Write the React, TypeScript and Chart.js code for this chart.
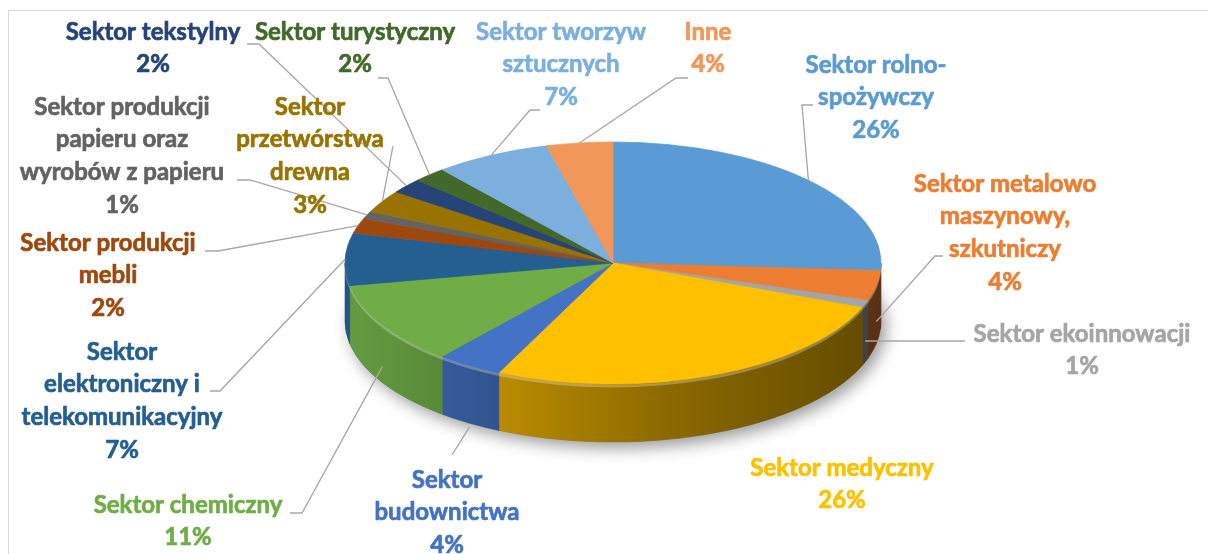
import { useEffect, useRef } from "react";
import { Chart, registerables } from "chart.js";

Chart.register(...registerables);

// ---------- data ----------
const categories = [
  "Sektor rolno-spożywczy",
  "Sektor metalowo maszynowy, szkutniczy",
  "Sektor ekoinnowacji",
  "Sektor medyczny",
  "Sektor budownictwa",
  "Sektor chemiczny",
  "Sektor elektroniczny i telekomunikacyjny",
  "Sektor produkcji mebli",
  "Sektor produkcji papieru oraz wyrobów z papieru",
  "Sektor przetwórstwa drewna",
  "Sektor tekstylny",
  "Sektor turystyczny",
  "Sektor tworzyw sztucznych",
  "Inne",
];
const values = [26, 4, 1, 26, 4, 11, 7, 2, 1, 3, 2, 2, 7, 4];
const labelLines = [
  ["Sektor rolno-", "spożywczy"],
  ["Sektor metalowo", "maszynowy,", "szkutniczy"],
  ["Sektor ekoinnowacji"],
  ["Sektor medyczny"],
  ["Sektor", "budownictwa"],
  ["Sektor chemiczny"],
  ["Sektor", "elektroniczny i", "telekomunikacyjny"],
  ["Sektor produkcji", "mebli"],
  ["Sektor produkcji", "papieru oraz", "wyrobów z papieru"],
  ["Sektor", "przetwórstwa", "drewna"],
  ["Sektor tekstylny"],
  ["Sektor turystyczny"],
  ["Sektor tworzyw", "sztucznych"],
  ["Inne"],
];

// ---------- styles ----------
const colors = [
  "#5B9BD5", "#ED7D31", "#A5A5A5", "#FFC000", "#4472C4", "#70AD47", "#255E91",
  "#9E480E", "#636363", "#997300", "#264478", "#43682B", "#7CAFDD", "#F1975A",
];

// label placement: text centre x, first line y, leader attach point, elbow, drop into wall
const labelLayout = [
  { cx: 876, y: 65, ax: 813, ay: 105, elbow: -11, drop: 0 },
  { cx: 1005, y: 184, ax: 943, ay: 256, elbow: -8, drop: 36 },
  { cx: 1082, y: 334, ax: 965, ay: 341, elbow: 0, drop: 37 },
  { cx: 842, y: 468, ax: null, ay: 0, elbow: 0, drop: 0 },
  { cx: 447, y: 480, ax: 452, ay: 455, elbow: 0, drop: 62 },
  { cx: 188, y: 505, ax: 290, ay: 513, elbow: 12, drop: 42 },
  { cx: 122, y: 352, ax: 210, ay: 391, elbow: 10, drop: 0 },
  { cx: 108, y: 243, ax: 205, ay: 251, elbow: 13, drop: 0 },
  { cx: 122, y: 107, ax: 237, ay: 180, elbow: 13, drop: 0 },
  { cx: 310, y: 107, ax: 393, ay: 146, elbow: 0, drop: 0 },
  { cx: 153, y: 32, ax: 247, ay: 44, elbow: 12, drop: 0 },
  { cx: 355, y: 32, ax: 378, ay: 78, elbow: 10, drop: 0 },
  { cx: 561, y: 32, ax: 540, ay: 110, elbow: -10, drop: 0 },
  { cx: 708, y: 32, ax: 688, ay: 78, elbow: -12, drop: 0 },
];

const TILT = 0.4515;
const DEPTH = 58;
const FONT_SIZE = 24;
const FONT_WEIGHT = "bold";
const LINE_H = 32.6;
const FONT_FAMILY = "Lato, 'Open Sans', sans-serif";

function shade(hex: string, f: number): string {
  const n = parseInt(hex.slice(1), 16);
  const r = Math.round(((n >> 16) & 255) * f);
  const g = Math.round(((n >> 8) & 255) * f);
  const b = Math.round((n & 255) * f);
  return `rgb(${r},${g},${b})`;
}

const framePlugin = {
  id: "frame",
  beforeDraw(chart: any) {
    const ctx = chart.ctx;
    ctx.save();
    ctx.fillStyle = "#ffffff";
    ctx.fillRect(0, 0, chart.width, chart.height);
    ctx.strokeStyle = "#D9D9D9";
    ctx.lineWidth = 1;
    ctx.strokeRect(8.5, 10.5, chart.width + 200, chart.height + 200);
    ctx.restore();
  },
};

const threeDPlugin = {
  id: "threeD",
  beforeDatasetsDraw(chart: any) {
    const meta = chart.getDatasetMeta(0);
    const arcs = meta.data;
    const ctx = chart.ctx;
    if (!arcs.length) {
      ctx.save();
      return;
    }
    const cx = arcs[0].x;
    const cy = arcs[0].y;
    const R = arcs[0].outerRadius;
    const ry = R * TILT;

    // soft shadow under the pie
    ctx.save();
    ctx.shadowColor = "rgba(0,0,0,0.4)";
    ctx.shadowBlur = 16;
    ctx.shadowOffsetX = 5;
    ctx.shadowOffsetY = 6;
    ctx.beginPath();
    ctx.ellipse(cx, cy + DEPTH, R, ry, 0, 0, Math.PI * 2);
    ctx.fillStyle = "#777";
    ctx.fill();
    ctx.restore();

    // side walls
    arcs.forEach((arc: any, i: number) => {
      const a = Math.max(arc.startAngle, 0);
      const b = Math.min(arc.endAngle, Math.PI);
      if (b <= a) return;
      const c = colors[i];
      const grad = ctx.createLinearGradient(cx - R, 0, cx + R, 0);
      grad.addColorStop(0, shade(c, 0.9));
      grad.addColorStop(0.3, shade(c, 0.72));
      grad.addColorStop(0.6, shade(c, 0.55));
      grad.addColorStop(1, shade(c, 0.38));
      ctx.save();
      ctx.beginPath();
      ctx.ellipse(cx, cy, R, ry, 0, a, b, false);
      ctx.ellipse(cx, cy + DEPTH, R, ry, 0, b, a, true);
      ctx.closePath();
      ctx.fillStyle = grad;
      ctx.fill();
      ctx.strokeStyle = grad;
      ctx.lineWidth = 0.6;
      ctx.stroke();
      ctx.restore();
    });

    // rim highlight (bevel)
    ctx.save();
    ctx.beginPath();
    ctx.ellipse(cx, cy + 2, R - 1, ry, 0, 0.02, Math.PI - 0.02, false);
    ctx.strokeStyle = "rgba(255,255,255,0.28)";
    ctx.lineWidth = 3;
    ctx.stroke();
    ctx.restore();

    // flatten top face
    ctx.save();
    ctx.translate(cx, cy);
    ctx.scale(1, TILT);
    ctx.translate(-cx, -cy);
  },
  afterDatasetsDraw(chart: any) {
    chart.ctx.restore();
  },
  afterDraw(chart: any) {
    const meta = chart.getDatasetMeta(0);
    const arcs = meta.data;
    if (!arcs.length) return;
    const ctx = chart.ctx;
    const cx = arcs[0].x;
    const cy = arcs[0].y;
    const R = arcs[0].outerRadius;
    const ry = R * TILT;
    ctx.save();
    // leader lines
    ctx.strokeStyle = "#A6A6A6";
    ctx.lineWidth = 1.3;
    arcs.forEach((arc: any, i: number) => {
      const L = labelLayout[i];
      if (L.ax == null) return;
      const mid = (arc.startAngle + arc.endAngle) / 2;
      const px = cx + R * Math.cos(mid);
      const py = cy + ry * Math.sin(mid) + L.drop;
      ctx.beginPath();
      ctx.moveTo(L.ax, L.ay);
      if (L.elbow) ctx.lineTo(L.ax + L.elbow, L.ay);
      ctx.lineTo(px, py);
      ctx.stroke();
    });
    // label texts (slight stroke to match the heavier original weight)
    ctx.font = `${FONT_WEIGHT} ${FONT_SIZE}px ${FONT_FAMILY}`;
    ctx.textAlign = "center";
    ctx.textBaseline = "middle";
    ctx.lineJoin = "round";
    ctx.lineWidth = 0.7;
    categories.forEach((_, i) => {
      const L = labelLayout[i];
      const lines = [...labelLines[i], `${values[i]}%`];
      ctx.fillStyle = colors[i];
      ctx.strokeStyle = colors[i];
      lines.forEach((t, j) => {
        ctx.fillText(t, L.cx, L.y + j * LINE_H);
        ctx.strokeText(t, L.cx, L.y + j * LINE_H);
      });
    });
    ctx.restore();
  },
};

export default function App() {
  const ref = useRef<HTMLCanvasElement | null>(null);
  useEffect(() => {
    if (!ref.current) return;
    const chart = new Chart(ref.current, {
      type: "pie",
      data: {
        labels: categories,
        datasets: [
          {
            data: values,
            backgroundColor: colors,
            borderColor: colors,
            borderWidth: 1,
            radius: 268,
            clip: false as any,
          } as any,
        ],
      },
      options: {
        animation: false,
        responsive: true,
        maintainAspectRatio: false,
        layout: { padding: { left: 18, right: 0, top: 0, bottom: 28 } },
        plugins: {
          legend: { display: false },
          tooltip: { enabled: false },
        },
        events: [],
      },
      plugins: [framePlugin, threeDPlugin],
    });
    return () => chart.destroy();
  }, []);
  return (
    <div style={{ position: "absolute", left: 0, top: 0, width: 1208, height: 554, background: "#fff" }}>
      <canvas ref={ref} style={{ display: "block", width: "1208px", height: "554px" }} />
    </div>
  );
}
